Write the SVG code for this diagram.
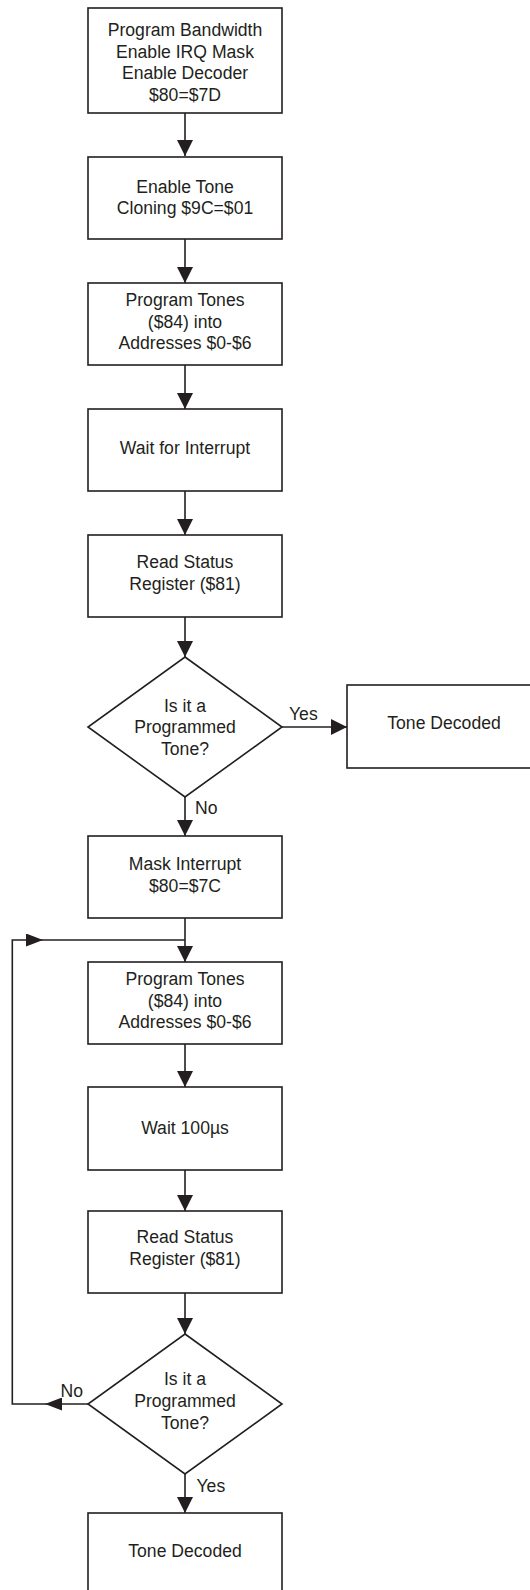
<svg xmlns="http://www.w3.org/2000/svg" width="530" height="1590" viewBox="0 0 530 1590">
<style>
.n{fill:#fff;stroke:#231f20;stroke-width:1.6}
.t{font-family:"Liberation Sans",Arial,sans-serif;font-size:17.6px;fill:#231f20;text-anchor:middle}
.l{font-family:"Liberation Sans",Arial,sans-serif;font-size:17.6px;fill:#231f20}
.c{fill:none;stroke:#231f20;stroke-width:1.6}
</style>
<defs>
<marker id="a" markerUnits="userSpaceOnUse" markerWidth="16" markerHeight="16" refX="16" refY="8" orient="auto" viewBox="0 0 16 16"><path d="M0,0L16,8L0,16z" fill="#231f20"/></marker>
<marker id="s" markerUnits="userSpaceOnUse" markerWidth="17" markerHeight="13" refX="17" refY="6.5" orient="auto" viewBox="0 0 17 13"><path d="M0,0L17,6.5L0,13z" fill="#231f20"/></marker>
</defs>
<rect width="530" height="1590" fill="#fff"/>
<g id="connectors">
<path class="c" d="M185,113V156" marker-end="url(#a)"/>
<path class="c" d="M185,239V283" marker-end="url(#a)"/>
<path class="c" d="M185,365V409" marker-end="url(#a)"/>
<path class="c" d="M185,491V535" marker-end="url(#a)"/>
<path class="c" d="M185,617V657" marker-end="url(#a)"/>
<path class="c" d="M282,727H347" marker-end="url(#a)"/>
<path class="c" d="M185,797V836" marker-end="url(#a)"/>
<path class="c" d="M185,918V962" marker-end="url(#a)"/>
<path class="c" d="M185,1044V1087" marker-end="url(#a)"/>
<path class="c" d="M185,1170V1211" marker-end="url(#a)"/>
<path class="c" d="M185,1293V1334" marker-end="url(#a)"/>
<path class="c" d="M185,1474V1513" marker-end="url(#a)"/>
<path class="c" d="M88,1404H45" marker-end="url(#s)"/>
<path class="c" d="M45,1404H12.3V940H43" marker-end="url(#s)"/>
<path class="c" d="M43,940H185"/>
<text class="l" x="289" y="720">Yes</text>
<text class="l" x="195" y="814">No</text>
<text class="l" x="60.5" y="1397">No</text>
<text class="l" x="196.5" y="1492">Yes</text>
</g>
<g id="n1"><rect class="n" x="88" y="8" width="194" height="105"/>
<text class="t" x="185" y="36">Program Bandwidth</text>
<text class="t" x="185" y="57.5">Enable IRQ Mask</text>
<text class="t" x="185" y="79">Enable Decoder</text>
<text class="t" x="185" y="100.5">$80=$7D</text></g>
<g id="n2"><rect class="n" x="88" y="157" width="194" height="82"/>
<text class="t" x="185" y="192.7">Enable Tone</text>
<text class="t" x="185" y="214.3">Cloning $9C=$01</text></g>
<g id="n3"><rect class="n" x="88" y="283" width="194" height="82"/>
<text class="t" x="185" y="306">Program Tones</text>
<text class="t" x="185" y="327.5">($84) into</text>
<text class="t" x="185" y="349">Addresses $0-$6</text></g>
<g id="n4"><rect class="n" x="88" y="409" width="194" height="82"/>
<text class="t" x="185" y="454">Wait for Interrupt</text></g>
<g id="n5"><rect class="n" x="88" y="535" width="194" height="82"/>
<text class="t" x="185" y="567.5">Read Status</text>
<text class="t" x="185" y="589.5">Register ($81)</text></g>
<g id="d1"><polygon class="n" points="185,657 282,727 185,797 88,727"/>
<text class="t" x="185" y="711.7">Is it a</text>
<text class="t" x="185" y="733.3">Programmed</text>
<text class="t" x="185" y="755">Tone?</text></g>
<g id="n6"><rect class="n" x="347" y="685" width="194" height="83"/>
<text class="t" x="444" y="729.3">Tone Decoded</text></g>
<g id="n7"><rect class="n" x="88" y="836" width="194" height="82"/>
<text class="t" x="185" y="870">Mask Interrupt</text>
<text class="t" x="185" y="891.7">$80=$7C</text></g>
<g id="n8"><rect class="n" x="88" y="962" width="194" height="82"/>
<text class="t" x="185" y="985">Program Tones</text>
<text class="t" x="185" y="1006.7">($84) into</text>
<text class="t" x="185" y="1028.3">Addresses $0-$6</text></g>
<g id="n9"><rect class="n" x="88" y="1087" width="194" height="83"/>
<text class="t" x="185" y="1134.3">Wait 100µs</text></g>
<g id="n10"><rect class="n" x="88" y="1211" width="194" height="82"/>
<text class="t" x="185" y="1243.3">Read Status</text>
<text class="t" x="185" y="1265">Register ($81)</text></g>
<g id="d2"><polygon class="n" points="185,1334 282,1404 185,1474 88,1404"/>
<text class="t" x="185" y="1385">Is it a</text>
<text class="t" x="185" y="1407.3">Programmed</text>
<text class="t" x="185" y="1429.3">Tone?</text></g>
<g id="n11"><rect class="n" x="88" y="1513" width="194" height="90"/>
<text class="t" x="185" y="1556.7">Tone Decoded</text></g>
</svg>
